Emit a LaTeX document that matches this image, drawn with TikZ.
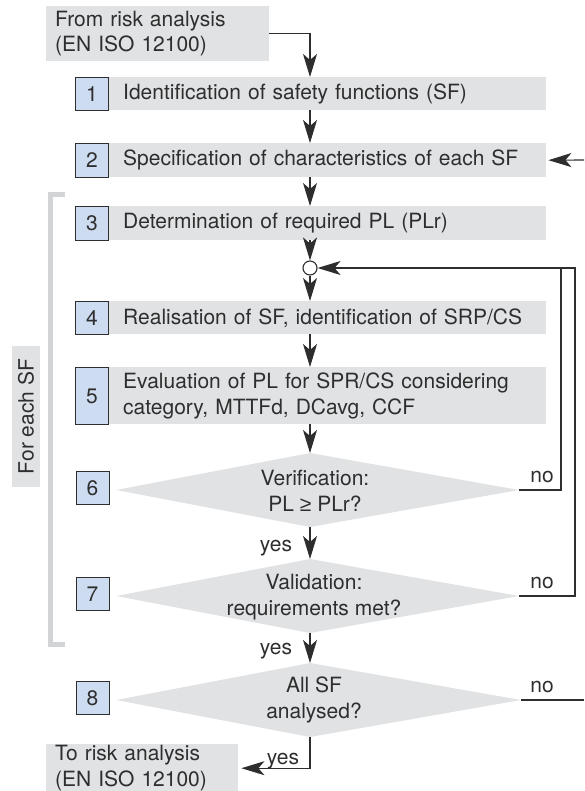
\documentclass[tikz,border=0pt]{standalone}
\usepackage{fontspec}
\setmainfont{TeX Gyre Heros}
\newfontfamily\symfont{Liberation Sans}
\usetikzlibrary{arrows.meta,calc}
\definecolor{barfill}{HTML}{E1E2E4}
\definecolor{numfill}{HTML}{CEDCF1}
\definecolor{ink}{HTML}{2E2E2E}
\definecolor{brk}{HTML}{D3D4D6}
\begin{document}
\begin{tikzpicture}[x=1pt,y=-1pt,
  font=\fontsize{21}{25.5}\selectfont, text=ink,
  bar/.style={fill=barfill, draw=none, anchor=north west, inner xsep=14pt, inner ysep=0pt, align=left},
  numbox/.style={fill=numfill, draw=ink, line width=0.9pt, minimum width=33pt, minimum height=33pt, inner sep=0pt},
  line/.style={draw=ink, line width=1.1pt},
  arr/.style={line, -{Stealth[length=23pt,width=14pt,inset=6pt]}},
  dia/.style={fill=barfill},
  lab/.style={inner sep=0pt, anchor=base}]
\useasboundingbox (0,0) rectangle (584,791);
\coordinate (axis) at (310,0);

% top box
\node[bar, inner xsep=9pt, text width=205pt, minimum height=55pt] (top) at (46,6) {From risk analysis\\(EN ISO 12100)};

% bars
\node[bar, text width=409pt, minimum height=33pt] (b1) at (109,77) {Identification of safety functions (SF)};
\node[bar, text width=409pt, minimum height=34pt] (b2) at (109,143) {Specification of characteristics of each SF};
\node[bar, text width=409pt, minimum height=34pt] (b3) at (109,206) {Determination of required PL (PLr)};
\node[bar, text width=409pt, minimum height=33pt] (b4) at (109,301) {Realisation of SF, identification of SRP/CS};
\node[bar, text width=409pt, minimum height=57pt] (b5) at (109,367) {Evaluation of PL for SPR/CS considering\\category, MTTFd, DCavg, CCF};

% number boxes
\node[numbox, anchor=north east] (n1) at (b1.north west) {1};
\node[numbox, anchor=north east, minimum height=34pt] (n2) at (b2.north west) {2};
\node[numbox, anchor=north east, minimum height=34pt] (n3) at (b3.north west) {3};
\node[numbox, anchor=north east] (n4) at (b4.north west) {4};
\node[numbox, anchor=north east, minimum height=57pt] (n5) at (b5.north west) {5};

% diamonds
\coordinate (d6w) at (116,490); \coordinate (d6n) at (310,453);
\coordinate (d6e) at (519,490); \coordinate (d6s) at (310,527);
\coordinate (d7w) at (116,596); \coordinate (d7n) at (310,559);
\coordinate (d7e) at (519,596); \coordinate (d7s) at (310,633);
\coordinate (d8w) at (116,700); \coordinate (d8n) at (310,663);
\coordinate (d8e) at (521,700); \coordinate (d8s) at (310,737);
\path[dia] (d6w) -- (d6n) -- (d6e) -- (d6s) -- cycle;
\path[dia] (d7w) -- (d7n) -- (d7e) -- (d7s) -- cycle;
\path[dia] (d8w) -- (d8n) -- (d8e) -- (d8s) -- cycle;
\node[align=center, inner sep=0pt] (t6) at (315,491) {Verification:\\PL {\symfont ≥} PLr?};
\node[align=center, inner sep=0pt] (t7) at (314,597) {Validation:\\requirements met?};
\node[align=center, inner sep=0pt] (t8) at (314,700) {All SF\\analysed?};
\node[numbox] (n6) at (92.5,488) {6};
\node[numbox] (n7) at (92.5,594) {7};
\node[numbox] (n8) at (92.5,698) {8};

% bottom box
\node[bar, inner xsep=9pt, text width=174pt, minimum height=48pt] (bot) at (46,744) {To risk analysis\\(EN ISO 12100)};

% bracket and label
\fill[brk] (48,192) rectangle (53,647);
\fill[brk] (48,192) rectangle (65,197);
\fill[brk] (48,642) rectangle (65,647);
\node[fill=barfill, rotate=90, minimum width=141pt, minimum height=28pt, inner sep=0pt] (each) at (26,416.5) {For each SF};

% junction circle
\node[circle, draw=ink, fill=white, line width=1.1pt, minimum size=14pt, inner sep=0pt] (c) at (310,268) {};

% connectors
\draw[arr] (top.east) -| (axis |- b1.north);
\draw[arr] (axis |- b1.south) -- (axis |- b2.north);
\draw[arr] (axis |- b2.south) -- (axis |- b3.north);
\draw[arr] (axis |- b3.south) -- (c.north);
\draw[arr] (c.south) -- (axis |- b4.north);
\draw[arr] (axis |- b4.south) -- (axis |- b5.north);
\draw[arr] (axis |- b5.south) -- (d6n);
\draw[arr] (d6s) -- (d7n);
\draw[arr] (d7s) -- (d8n);
\draw[arr, shorten >=3pt] (d8s) |- (bot.east);

\coordinate (loopA) at (561,268);
\coordinate (loopB) at (575,268);
\coordinate (edge8) at (584,700);
\coordinate (edge2) at (584,160);
\draw[line] (d6e) -| (loopA);
\draw[arr] (d7e) -| (loopB) -- (c.east);
\draw[line] (d8e) -- (edge8);
\draw[arr, shorten >=2pt] (edge2) -- (b2.east);

% labels
\node[lab] (no6) at (542,482) {no};
\node[lab] (no7) at (542,588) {no};
\node[lab] (no8) at (542,692) {no};
\node[lab] (yes6) at (276,551) {yes};
\node[lab] (yes7) at (276,654) {yes};
\node[lab] (yes8) at (283,764) {yes};
\end{tikzpicture}
\end{document}
